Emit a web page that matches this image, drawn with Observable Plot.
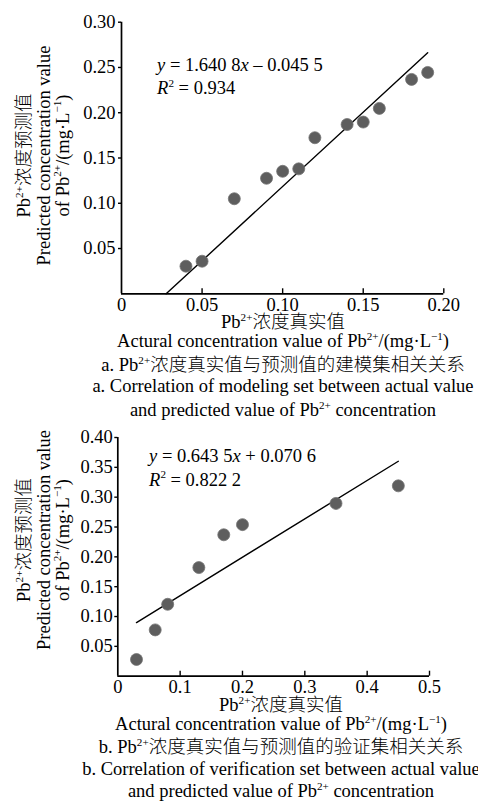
<!DOCTYPE html>
<html>
<head>
<meta charset="utf-8">
<script src="https://cdn.jsdelivr.net/npm/d3@7"></script>
<script src="https://cdn.jsdelivr.net/npm/@observablehq/plot@0.6"></script>
<style>
  html, body { margin: 0; padding: 0; background: #fff; overflow: hidden; }
  #page { position: relative; width: 478px; height: 803px; overflow: hidden; background: #fff;
          font-family: 'Liberation Serif', 'Noto Sans CJK SC', serif; color: #000; }
  #page svg { position: absolute; left: 0; }
  .ln { position: absolute; white-space: nowrap; font-size: 18.5px; line-height: 18.5px;
        text-align: center; width: 800px; }
  .ln sup { font-size: 0.6em; line-height: 0; vertical-align: 0.62em; }
  .cjk { font-weight: 300; }
</style>
</head>
<body>
<div id="page"></div>
<script>
// ---------- Data: chart a (modeling set) ----------
const actualA    = [0.04, 0.05, 0.07, 0.09, 0.10, 0.11, 0.12, 0.14, 0.15, 0.16, 0.18, 0.19];
const predictedA = [0.0305, 0.036, 0.105, 0.1276, 0.1353, 0.138, 0.1724, 0.187, 0.1897, 0.2048, 0.2368, 0.2445];
const fitA       = [1.6408, -0.0455];          // slope, intercept (from the equation)
const fitRangeA  = [0.0277, 0.19];             // x extent of the drawn fit line
const xTicksA    = [0, 0.05, 0.10, 0.15, 0.20];
const xLabelsA   = ["0", "0.05", "0.10", "0.15", "0.20"];
const yTicksA    = [0.05, 0.10, 0.15, 0.20, 0.25, 0.30];
const yLabelsA   = ["0.05", "0.10", "0.15", "0.20", "0.25", "0.30"];
const eqA        = ["*y* = 1.640 8*x* – 0.045 5", "*R*^{2} = 0.934"];
const eqPosA     = [0.0224, 0.246];

// ---------- Data: chart b (verification set) ----------
const actualB    = [0.03, 0.06, 0.08, 0.13, 0.17, 0.20, 0.35, 0.45];
const predictedB = [0.028, 0.0776, 0.1205, 0.182, 0.237, 0.254, 0.2896, 0.319];
const fitB       = [0.6435, 0.0706];
const fitRangeB  = [0.03, 0.45];
const xTicksB    = [0, 0.1, 0.2, 0.3, 0.4, 0.5];
const xLabelsB   = ["0", "0.1", "0.2", "0.3", "0.4", "0.5"];
const yTicksB    = [0.05, 0.10, 0.15, 0.20, 0.25, 0.30, 0.35, 0.40];
const yLabelsB   = ["0.05", "0.10", "0.15", "0.20", "0.25", "0.30", "0.35", "0.40"];
const eqB        = ["*y* = 0.643 5*x* + 0.070 6", "*R*^{2} = 0.822 2"];
const eqPosB     = [0.051, 0.3577];

// ---------- Texts ----------
const yTitle = ["Pb^{2+}浓度预测值", "Predicted concentration value", "of Pb^{2+}/(mg·L^{−1})"];
const xTitle = ["Pb^{2+}浓度真实值", "Actural concentration value of Pb^{2+}/(mg·L^{−1})"];
const captionA = ["a. Pb^{2+}浓度真实值与预测值的建模集相关关系",
                  "a. Correlation of modeling set between actual value",
                  "and predicted value of Pb^{2+} concentration"];
const captionB = ["b. Pb^{2+}浓度真实值与预测值的验证集相关关系",
                  "b. Correlation of verification set between actual value",
                  "and predicted value of Pb^{2+} concentration"];

// ---------- Rendering ----------
const FONT = "'Liberation Serif','Noto Sans CJK SC',serif";
const FS = 18.5;
const NS = "http://www.w3.org/2000/svg";
const page = document.getElementById("page");
const CJK = /[\u3400-\u9fff]+/g;

function parseRich(s) {
  const out = []; const re = /\^\{([^}]*)\}|\*([^*]*)\*/g; let last = 0, m;
  const pushPlain = (str) => {
    let l = 0, mm; CJK.lastIndex = 0;
    while ((mm = CJK.exec(str))) {
      if (mm.index > l) out.push({t: str.slice(l, mm.index), k: ""});
      out.push({t: mm[0], k: "c"});
      l = CJK.lastIndex;
    }
    if (l < str.length) out.push({t: str.slice(l), k: ""});
  };
  while ((m = re.exec(s))) {
    if (m.index > last) pushPlain(s.slice(last, m.index));
    if (m[1] !== undefined) out.push({t: m[1], k: "s"}); else out.push({t: m[2], k: "i"});
    last = re.lastIndex;
  }
  if (last < s.length) pushPlain(s.slice(last));
  return out;
}

function svgRich(svg, x, y, s, {anchor = "start", rotate = false} = {}) {
  const t = document.createElementNS(NS, "text");
  if (rotate) t.setAttribute("transform", `translate(${x},${y}) rotate(-90)`);
  else { t.setAttribute("x", x); t.setAttribute("y", y); }
  t.setAttribute("font-size", FS);
  t.setAttribute("font-family", FONT);
  t.setAttribute("fill", "#000");
  t.setAttribute("text-anchor", anchor);
  let shift = 0;
  for (const p of parseRich(s)) {
    const ts = document.createElementNS(NS, "tspan");
    ts.textContent = p.t;
    if (p.k === "s") {
      ts.setAttribute("font-size", FS * 0.6);
      if (!shift) { ts.setAttribute("dy", -FS * 0.4); shift = FS * 0.4; }
    } else {
      if (shift) { ts.setAttribute("dy", shift); shift = 0; }
      if (p.k === "i") ts.setAttribute("font-style", "italic");
      if (p.k === "c") ts.setAttribute("font-weight", 300);
    }
    t.appendChild(ts);
  }
  svg.appendChild(t);
}

function htmlRich(s) {
  return parseRich(s).map(p => p.k === "s" ? `<sup>${p.t}</sup>`
    : p.k === "i" ? `<i>${p.t}</i>` : p.k === "c" ? `<span class="cjk">${p.t}</span>` : p.t).join("");
}

function addLines(lines, baselines, cx) {
  lines.forEach((s, i) => {
    const d = document.createElement("div");
    d.className = "ln";
    d.style.left = (cx - 400) + "px";
    d.style.top = (baselines[i] - 15.5) + "px";
    d.innerHTML = htmlRich(s);
    page.appendChild(d);
  });
}

function chart(c) {
  const pts = c.xs.map((x, i) => ({x, y: c.ys[i]}));
  const fit = c.range.map(x => ({x, y: c.fit[0] * x + c.fit[1]}));
  const lab = (ticks, labels) => d => labels[ticks.indexOf(d)];
  const p = Plot.plot({
    width: 478, height: c.height,
    marginLeft: c.ml, marginRight: c.mr, marginTop: c.mt, marginBottom: c.mb,
    style: {fontFamily: FONT, fontSize: FS + "px", background: "#fff", color: "#000", overflow: "visible"},
    x: {domain: c.xDomain},
    y: {domain: c.yDomain},
    marks: [
      Plot.axisY({ticks: c.yTicks, tickFormat: lab(c.yTicks, c.yLabels), tickSize: 3, tickPadding: c.yPad,
                  strokeWidth: 1.4, label: null, fontSize: FS}),
      Plot.axisX({ticks: c.xTicks, tickFormat: lab(c.xTicks, c.xLabels), tickSize: 0, tickPadding: 4,
                  label: null, fontSize: FS}),
      Plot.axisX({ticks: c.xTicks.filter(d => d > 0), tickFormat: () => "", tickSize: 5, dy: -5,
                  strokeWidth: 1.4, label: null}),
      Plot.ruleX([0], {stroke: "#000", strokeWidth: 1.7}),
      Plot.ruleY([0], {stroke: "#000", strokeWidth: 1.7}),
      Plot.line(fit, {x: "x", y: "y", stroke: "#000", strokeWidth: 1.4}),
      Plot.dot(pts, {x: "x", y: "y", r: 6, fill: "#5e5e5e", stroke: "#747474", strokeWidth: 0.8})
    ]
  });
  p.style.top = c.top + "px";
  const sx = p.scale("x"), sy = p.scale("y");
  // regression equation
  svgRich(p, sx.apply(c.eqPos[0]), sy.apply(c.eqPos[1]), c.eq[0]);
  svgRich(p, sx.apply(c.eqPos[0]), sy.apply(c.eqPos[1]) + 23.5, c.eq[1]);
  // y-axis title (three rotated lines)
  const cy = c.yTitleCenter;
  [30, 49.5, 68.8].forEach((bx, i) => svgRich(p, bx, cy, yTitle[i], {anchor: "middle", rotate: true}));
  page.appendChild(p);
  return p;
}

chart({
  top: 0, height: 318, ml: 121, mr: 34.7, mt: 21.7, mb: 24.7, yPad: 3,
  xs: actualA, ys: predictedA, fit: fitA, range: fitRangeA,
  xDomain: [0, 0.20], yDomain: [0, 0.30],
  xTicks: xTicksA, xLabels: xLabelsA, yTicks: yTicksA, yLabels: yLabelsA,
  eq: eqA, eqPos: eqPosA, yTitleCenter: 155.5
});

chart({
  top: 425, height: 275, ml: 117.3, mr: 49, mt: 12, mb: 24.3, yPad: 2,
  xs: actualB, ys: predictedB, fit: fitB, range: fitRangeB,
  xDomain: [0, 0.5], yDomain: [0, 0.40],
  xTicks: xTicksB, xLabels: xLabelsB, yTicks: yTicksB, yLabels: yLabelsB,
  eq: eqB, eqPos: eqPosB, yTitleCenter: 115
});

addLines([...xTitle, ...captionA], [328.3, 347.3, 371, 392.3, 416], 283);
addLines([...xTitle, ...captionB], [711.7, 730.7, 753.3, 775, 797.3], 281);
</script>
</body>
</html>
